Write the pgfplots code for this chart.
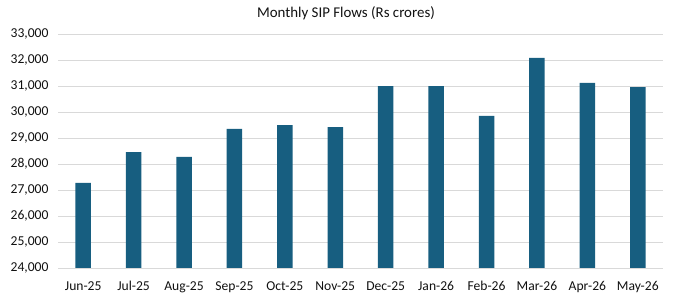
\documentclass[border=0pt]{standalone}
\usepackage{pgfplots}
\pgfplotsset{compat=1.18}
\usepackage{fontspec}
\setmainfont{Carlito}
\definecolor{barblue}{HTML}{175E80}
\definecolor{gridgray}{HTML}{D9D9D9}
\definecolor{txt}{HTML}{111111}
\begin{document}
\begin{tikzpicture}
\path[use as bounding box] (0,0) rectangle (675bp,308bp);
\node[font=\fontsize{14.9bp}{17bp}\selectfont, text=txt] at (346bp,295bp) {Monthly SIP Flows (Rs crores)};
\begin{axis}[
  at={(58bp,40bp)}, anchor=south west,
  scale only axis, width=605bp, height=234bp,
  xmin=-0.5, xmax=11.5, ymin=24000, ymax=33000,
  ytick={24000,25000,...,33000},
  xtick={0,...,11},
  xticklabels={Jun-25,Jul-25,Aug-25,Sep-25,Oct-25,Nov-25,Dec-25,Jan-26,Feb-26,Mar-26,Apr-26,May-26},
  ymajorgrids, grid style={gridgray, line width=0.9pt},
  axis line style={draw=none},
  axis x line*=bottom,
  x axis line style={draw=gridgray, line width=0.9pt},
  major tick length=0pt,
  tick label style={font=\fontsize{13.6bp}{16bp}\selectfont, text=txt},
  yticklabel style={xshift=-6bp},
  xticklabel style={yshift=-10bp},
  /pgf/number format/assume math mode=true,
  /pgf/number format/1000 sep={,},
  scaled y ticks=false,
  ybar, bar width=15.5bp,
]
\addplot[fill=barblue, draw=none] coordinates {
  (0,27270) (1,28460) (2,28270) (3,29350) (4,29500) (5,29420)
  (6,31000) (7,31000) (8,29850) (9,32080) (10,31120) (11,30960)
};
\end{axis}
\end{tikzpicture}
\end{document}
